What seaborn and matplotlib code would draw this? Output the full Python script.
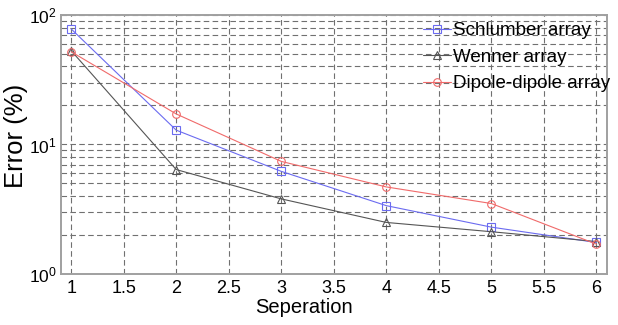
import numpy as np
import pandas as pd
import seaborn as sns
import matplotlib.pyplot as plt
from matplotlib.ticker import LogLocator, FuncFormatter, MultipleLocator


# Data
separation = [1, 2, 3, 4, 5, 6]
schlumber = [78, 12.9, 6.2, 3.37, 2.3, 1.75]
wenner = [53, 6.4, 3.8, 2.5, 2.12, 1.78]
dipole = [52, 17.2, 7.4, 4.7, 3.5, 1.7]

series_names = ["Schlumber array", "Wenner array", "Dipole-dipole array"]


df = pd.DataFrame({
    "Seperation": separation * 3,
    "Error": schlumber + wenner + dipole,
    "Array": [n for n in series_names for _ in separation],
})


sns.set_style("white")
plt.rcParams["font.family"] = ["Liberation Sans", "DejaVu Sans"]
plt.rcParams["mathtext.fontset"] = "custom"
plt.rcParams["mathtext.rm"] = "Liberation Sans"
plt.rcParams["mathtext.it"] = "Liberation Sans"
plt.rcParams["mathtext.default"] = "regular"
plt.rcParams["text.color"] = "black"
plt.rcParams["axes.labelcolor"] = "black"
plt.rcParams["xtick.color"] = "black"
plt.rcParams["ytick.color"] = "black"


fig = plt.figure(figsize=(6.18, 3.25), dpi=100)
ax = fig.add_axes([0.099, 0.157, 0.883, 0.797])

palette = {"Schlumber array": "#6b6bf0", "Wenner array": "#555555", "Dipole-dipole array": "#f06a6a"}
markers = {"Schlumber array": "s", "Wenner array": "^", "Dipole-dipole array": "o"}

for name in series_names:
    sub = df[df["Array"] == name]
    sns.lineplot(data=sub, x="Seperation", y="Error", ax=ax, color=palette[name],
                 marker=markers[name], markersize=5.5, markerfacecolor="none",
                 markeredgecolor=palette[name], markeredgewidth=0.8,
                 linewidth=0.8, label=name)

ax.set_yscale("log")
ax.set_ylim(1, 100)
ax.set_xlim(0.905, 6.1)

ax.xaxis.set_major_locator(MultipleLocator(0.5))
ax.xaxis.set_major_formatter(FuncFormatter(lambda v, p: f"{v:g}"))
ax.yaxis.set_major_locator(LogLocator(base=10))
ax.yaxis.set_minor_locator(LogLocator(base=10, subs=np.arange(2, 10)))
ax.yaxis.set_major_formatter(FuncFormatter(lambda v, p: r"$10^{%d}$" % round(np.log10(v))))

ax.grid(True, which="both", axis="y", linestyle=(0, (5, 3)), color="#707070", linewidth=0.8)
ax.grid(True, which="major", axis="x", linestyle=(0, (5, 3)), color="#707070", linewidth=0.8)

ax.tick_params(axis="x", which="major", labelsize=13, length=0, pad=4)
ax.tick_params(axis="y", which="major", labelsize=12.5, length=0, pad=3)
ax.tick_params(axis="y", which="minor", length=0)

for side in ["left", "top", "right", "bottom"]:
    ax.spines[side].set_color("#a0a0a0")
    ax.spines[side].set_linewidth(1.4)

ax.set_xlabel("Seperation", fontsize=14.5)
ax.set_ylabel("Error (%)", fontsize=18.5)
ax.xaxis.set_label_coords((304 - 61) / 546, -(298 - 274) / 259)
ax.yaxis.set_label_coords((28 - 61) / 546, (274 - 136) / 259)

ax.legend(loc="upper right", frameon=False, fontsize=13.5, handlelength=1.5,
          handletextpad=0.1, borderpad=0, borderaxespad=0, labelspacing=0.5,
          bbox_to_anchor=(610 / 618, 1 - 22 / 325), bbox_transform=fig.transFigure)

fig.savefig("out.png", dpi=100)
